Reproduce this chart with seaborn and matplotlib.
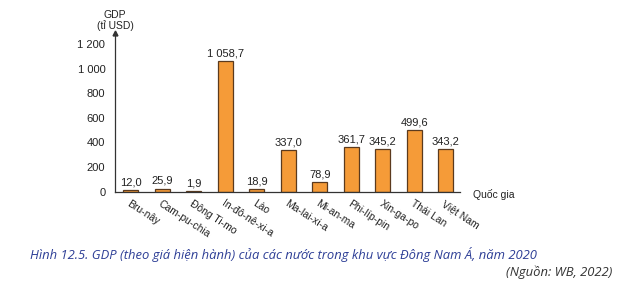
import matplotlib
matplotlib.use("Agg")
import matplotlib.pyplot as plt
import seaborn as sns
import pandas as pd

countries = ["Bru-nây", "Cam-pu-chia", "Đông Ti-mo", "In-đô-nê-xi-a", "Lào",
             "Ma-lai-xi-a", "Mi-an-ma", "Phi-líp-pin", "Xin-ga-po", "Thái Lan", "Việt Nam"]
gdp = [12.0, 25.9, 1.9, 1058.7, 18.9, 337.0, 78.9, 361.7, 345.2, 499.6, 343.2]
value_labels = ["12,0", "25,9", "1,9", "1 058,7", "18,9", "337,0", "78,9",
                "361,7", "345,2", "499,6", "343,2"]
yticks = [0, 200, 400, 600, 800, 1000, 1200]
ytick_labels = ["0", "200", "400", "600", "800", "1 000", "1 200"]

sns.set_style("white")
plt.rcParams["font.family"] = ["Liberation Sans", "DejaVu Sans"]

df = pd.DataFrame({"country": countries, "gdp": gdp})

fig = plt.figure(figsize=(6.18, 2.86), dpi=100)
ax = fig.add_axes([115/618, 1-191.7/286, (460-115)/618, (191.7-33)/286])

sns.barplot(data=df, x="country", y="gdp", ax=ax, color="#F59B38",
            saturation=1, width=0.47, edgecolor="#5b3a1e", linewidth=0.9)

ax.set_ylim(0, 1290)
ax.set_xlim(-0.5, 10.45)
ax.set_yticks(yticks)
ax.set_yticklabels(ytick_labels, fontsize=8, color="#222222")
ax.tick_params(axis="y", direction="inout", length=6, width=0.8, color="#333333", pad=4)
ax.tick_params(axis="x", direction="out", length=3, width=0.8, color="#333333", pad=2)
ax.set_xticks(range(len(countries)))
ax.set_xticklabels(countries, rotation=-33, ha="left", va="top",
                   rotation_mode="anchor", fontsize=7.5, color="#222222")
ax.set_xlabel("")
ax.set_ylabel("")
for s in ["top", "right"]:
    ax.spines[s].set_visible(False)
for s in ["left", "bottom"]:
    ax.spines[s].set_color("#333333")
    ax.spines[s].set_linewidth(0.9)

for i, (v, t) in enumerate(zip(gdp, value_labels)):
    ax.annotate(t, (i, v), xytext=(0, 2), textcoords="offset points",
                ha="center", va="bottom", fontsize=8, color="#222222")

# axis arrow
ax.plot(0, 1, marker="^", transform=ax.transAxes, color="#333333",
        markersize=3.5, clip_on=False)

fig.text(115/618, 1-15/286, "GDP", ha="center", va="center", fontsize=7.5, color="#222222")
fig.text(115/618, 1-26/286, "(tỉ USD)", ha="center", va="center", fontsize=7.5, color="#222222")
fig.text(473/618, 1-194/286, "Quốc gia", ha="left", va="center", fontsize=7.5, color="#222222")

fig.text(30/618, 1-254/286,
         "Hình 12.5. GDP (theo giá hiện hành) của các nước trong khu vực Đông Nam Á, năm 2020",
         ha="left", va="center", fontsize=9.4, style="italic", color="#2d3e96",
         family=["Open Sans", "DejaVu Sans"])
fig.text(612/618, 1-272/286, "(Nguồn: WB, 2022)", ha="right", va="center",
         fontsize=9.4, style="italic", color="#333333", family=["Open Sans", "DejaVu Sans"])

fig.savefig("out.png", dpi=100, facecolor="white")
